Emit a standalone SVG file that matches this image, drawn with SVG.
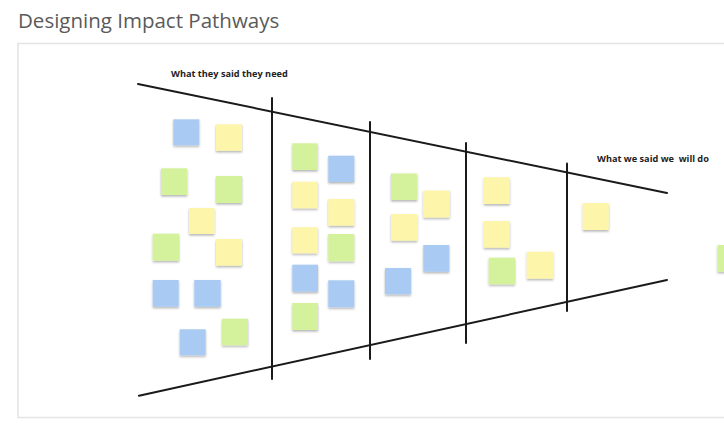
<svg xmlns="http://www.w3.org/2000/svg" width="724" height="433" viewBox="0 0 724 433">
<defs>
<filter id="sh" x="-20%" y="-20%" width="140%" height="150%">
<feDropShadow dx="0" dy="1.5" stdDeviation="1" flood-color="#000" flood-opacity="0.3"/>
</filter>
</defs>
<style>
.title{font-family:"Open Sans",sans-serif;font-size:20.5px;fill:#5a5a5a}
.lbl{font-family:"Open Sans",sans-serif;font-size:9.2px;font-weight:bold;fill:#222;white-space:pre}
.ln{stroke:#1a1a1a;stroke-width:2;fill:none;stroke-linecap:round}
.n{filter:url(#sh)}
.b{fill:#a9caf2}
.y{fill:#fdf5a9}
.g{fill:#d4f29c}
</style>
<rect width="724" height="433" fill="#fff"/>
<text class="title" x="18" y="28">Designing Impact Pathways</text>
<rect x="18" y="43.5" width="720" height="374" fill="#fff" stroke="#e4e4e4" stroke-width="1.5"/>
<g id="connectors">
<line class="ln" x1="138" y1="84" x2="667" y2="193"/>
<line class="ln" x1="139" y1="395.7" x2="667" y2="280"/>
<line class="ln" x1="272" y1="98" x2="272" y2="379"/>
<line class="ln" x1="370" y1="122" x2="370" y2="359"/>
<line class="ln" x1="466" y1="143" x2="466" y2="343"/>
<line class="ln" x1="567" y1="163.5" x2="567" y2="311"/>
</g>
<g id="labels">
<text class="lbl" x="171" y="77">What they said they need</text>
<text class="lbl" x="597" y="162" xml:space="preserve">What we said we  will do</text>
</g>
<g id="notes">
<g id="col1">
<rect class="n b" x="173.3" y="119.3" width="26" height="26"/>
<rect class="n y" x="216" y="124.3" width="26" height="26.5"/>
<rect class="n g" x="161" y="168.3" width="26.3" height="26.7"/>
<rect class="n g" x="216" y="176" width="26" height="27"/>
<rect class="n y" x="189" y="208" width="25.5" height="26"/>
<rect class="n g" x="152.7" y="233.7" width="26.3" height="27"/>
<rect class="n y" x="216" y="239" width="26" height="26.7"/>
<rect class="n b" x="152.7" y="280" width="26" height="26.7"/>
<rect class="n b" x="194.3" y="280" width="26.4" height="26.7"/>
<rect class="n b" x="179.7" y="329.3" width="26" height="26"/>
<rect class="n g" x="222" y="318.7" width="26" height="26.6"/>
</g>
<g id="col2">
<rect class="n g" x="292.3" y="143.3" width="25.4" height="26.7"/>
<rect class="n b" x="328.3" y="155.7" width="26" height="26.3"/>
<rect class="n y" x="292.3" y="181.7" width="25.4" height="26.6"/>
<rect class="n y" x="328.3" y="199" width="26" height="26.7"/>
<rect class="n y" x="292.3" y="227.3" width="25.4" height="26"/>
<rect class="n g" x="328.3" y="234" width="26" height="27.3"/>
<rect class="n b" x="292.3" y="264.7" width="25.7" height="27"/>
<rect class="n b" x="328.3" y="280.3" width="26" height="27"/>
<rect class="n g" x="292.3" y="303" width="25.7" height="27"/>
</g>
<g id="col3">
<rect class="n g" x="391" y="173.5" width="26.3" height="26.5"/>
<rect class="n y" x="423.3" y="190.5" width="26.5" height="27"/>
<rect class="n y" x="391" y="214" width="26.3" height="26.7"/>
<rect class="n b" x="423.3" y="245" width="26" height="26.7"/>
<rect class="n b" x="385" y="268" width="26" height="26.3"/>
</g>
<g id="col4">
<rect class="n y" x="483.7" y="177.3" width="26" height="26.7"/>
<rect class="n y" x="483.7" y="221" width="26" height="26.7"/>
<rect class="n g" x="488.7" y="257.7" width="26.3" height="26.6"/>
<rect class="n y" x="526.7" y="251.7" width="26.6" height="27"/>
</g>
<g id="col5">
<rect class="n y" x="582.7" y="203" width="26" height="27"/>
<rect class="n g" x="717.5" y="245" width="26" height="26.7"/>
</g>
</g>
</svg>
